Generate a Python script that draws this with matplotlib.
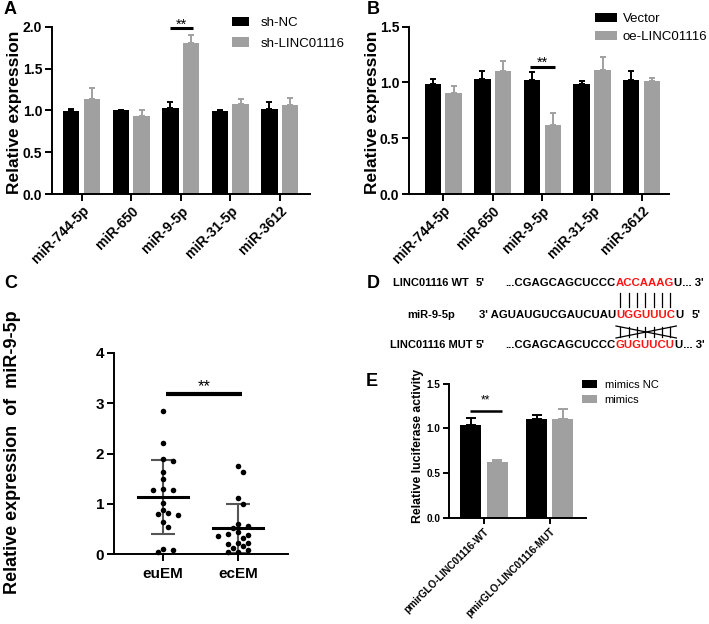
import matplotlib
matplotlib.use("Agg")
import matplotlib.pyplot as plt
from matplotlib.patches import Patch
import numpy as np

plt.rcParams["font.family"] = ["Liberation Sans", "DejaVu Sans"]
plt.rcParams["font.weight"] = "bold"
plt.rcParams["axes.linewidth"] = 1.4

BLACK = "#000000"
GRAY = "#a0a0a0"
RED = "#ff1414"

# ---- panel A / B: miRNA screening ----
mirnas = ["miR-744-5p", "miR-650", "miR-9-5p", "miR-31-5p", "miR-3612"]
sh_nc = [0.99, 1.00, 1.03, 0.99, 1.02]
sh_nc_err = [0.03, 0.01, 0.07, 0.02, 0.08]
sh_linc = [1.13, 0.93, 1.80, 1.08, 1.06]
sh_linc_err = [0.14, 0.08, 0.10, 0.06, 0.09]

vector = [0.99, 1.03, 1.02, 0.99, 1.02]
vector_err = [0.04, 0.07, 0.07, 0.02, 0.08]
oe_linc = [0.91, 1.10, 0.62, 1.11, 1.01]
oe_linc_err = [0.06, 0.09, 0.11, 0.12, 0.03]

# ---- panel C: tissue expression ----
tissues = ["euEM", "ecEM"]
eu_em = [2.85, 2.21, 1.90, 1.86, 1.64, 1.50, 1.29, 1.27, 1.27, 1.02,
         0.87, 0.81, 0.80, 0.77, 0.64, 0.54, 0.09, 0.07, 0.03]
ec_em = [1.75, 1.64, 1.11, 1.00, 0.60, 0.56, 0.52, 0.43, 0.39, 0.38,
         0.36, 0.32, 0.21, 0.21, 0.20, 0.15, 0.11, 0.07, 0.04, 0.03]
tissue_mean = [1.13, 0.51]
tissue_sd = [0.74, 0.49]

# ---- panel D: binding sites ----
wt_seq = ["...CGAGCAGCUCCC", "ACCAAAG", "U... 3'"]
mir_seq = ["3' AGUAUGUCGAUCUAU", "UGGUUUC", "U"]
mut_seq = ["...CGAGCAGCUCCC", "GUGUUCU", "U... 3'"]

# ---- panel E: luciferase ----
luc_groups = ["pmirGLO-LINC01116-WT", "pmirGLO-LINC01116-MUT"]
mimics_nc = [1.04, 1.10]
mimics_nc_err = [0.07, 0.05]
mimics = [0.62, 1.10]
mimics_err = [0.03, 0.12]

W, H = 709, 624
fig = plt.figure(figsize=(W / 100, H / 100), dpi=100)


def add_axes_px(left, top, right, bottom):
    return fig.add_axes([left / W, 1 - bottom / H, (right - left) / W, (bottom - top) / H])


def style_axes(ax, labelsize, ticklen=4):
    for side in ("top", "right"):
        ax.spines[side].set_visible(False)
    ax.tick_params(axis="both", direction="out", width=1.4, length=ticklen,
                   labelsize=labelsize, pad=2)
    ax.patch.set_alpha(0)


def grouped_bars(ax, a, a_err, b, b_err, offset, width, capsize):
    n = len(a)
    x = np.arange(n)
    for xs, vals, errs, color in ((x - offset, a, a_err, BLACK), (x + offset, b, b_err, GRAY)):
        ax.bar(xs, vals, width, color=color, zorder=2)
        ax.errorbar(xs, vals, yerr=[np.zeros(n), errs], fmt="none", ecolor=color,
                    elinewidth=1.4, capsize=capsize, capthick=1.4, zorder=1)
    return x


def sig(ax, x1, x2, y, lw, fs, lift):
    ax.plot([x1, x2], [y, y], color=BLACK, lw=lw, clip_on=False, solid_capstyle="butt")
    ax.annotate("**", xy=((x1 + x2) / 2, y), xytext=(0, lift), textcoords="offset points",
                ha="center", va="baseline", fontsize=fs, fontweight="normal",
                annotation_clip=False)


def legend_px(labels, x, y, fs, hl, tp, ls):
    handles = [Patch(facecolor=BLACK), Patch(facecolor=GRAY)]
    fig.legend(handles, labels, loc="upper left", bbox_to_anchor=(x / W, 1 - y / H),
               frameon=False, borderpad=0, borderaxespad=0, handlelength=hl,
               handleheight=0.7, handletextpad=tp, labelspacing=ls,
               prop={"size": fs, "weight": "normal"})


def swarm(values, unit_px, step_px, min_px):
    vals = np.asarray(values)
    offs = np.zeros(len(vals))
    placed = []
    for i in np.argsort(vals)[::-1]:
        y = vals[i] * unit_px
        k = 0
        while True:
            cands = [0.0] if k == 0 else [-k * step_px, k * step_px]
            ok = [c for c in cands
                  if all(np.hypot(c - px, y - py) >= min_px for px, py in placed)]
            if ok:
                break
            k += 1
        c = ok[len(placed) % len(ok)]
        offs[i] = c
        placed.append((c, y))
    return offs


# ================= A =================
axA = add_axes_px(52, 26.7, 309.5, 194)
x = grouped_bars(axA, sh_nc, sh_nc_err, sh_linc, sh_linc_err, 0.21, 0.33, 2.4)
axA.set_xlim(-0.6, 4.6)
axA.set_ylim(0, 2.0)
axA.set_yticks([0, 0.5, 1.0, 1.5, 2.0])
axA.yaxis.set_major_formatter(matplotlib.ticker.FormatStrFormatter("%.1f"))
axA.set_xticks(x)
axA.set_xticklabels(mirnas, rotation=45, ha="right", va="top", rotation_mode="anchor")
style_axes(axA, 10, 5)
sig(axA, 1.79, 2.25, 1.99, 2.2, 10.5, -1)

# ================= B =================
axB = add_axes_px(409, 26.7, 669, 194)
x = grouped_bars(axB, vector, vector_err, oe_linc, oe_linc_err, 0.21, 0.33, 2.4)
axB.set_xlim(-0.69, 4.55)
axB.set_ylim(0, 1.5)
axB.set_yticks([0, 0.5, 1.0, 1.5])
axB.yaxis.set_major_formatter(matplotlib.ticker.FormatStrFormatter("%.1f"))
axB.set_xticks(x)
axB.set_xticklabels(mirnas, rotation=45, ha="right", va="top", rotation_mode="anchor")
style_axes(axB, 10, 5)
sig(axB, 1.74, 2.25, 1.14, 2.2, 10.5, 0)

# ================= C =================
axC = add_axes_px(114, 353, 288, 554)
axC.set_xlim(-0.653, 1.667)
axC.set_ylim(0, 4)
unit_px = 201 / 4
cat_px = 174 / 2.32
for i, vals in enumerate((eu_em, ec_em)):
    offs = swarm(vals, unit_px, 5, 5.8) / cat_px
    axC.scatter(i + offs, vals, s=16, color=BLACK, zorder=3, linewidths=0, clip_on=False)
    axC.errorbar(i, tissue_mean[i], yerr=tissue_sd[i], fmt="none", ecolor="#555555",
                 elinewidth=1.5, capsize=8.6, capthick=1.5, zorder=2)
    axC.plot([i - 0.335, i + 0.335], [tissue_mean[i]] * 2, color=BLACK, lw=2.2, zorder=2)
axC.set_yticks([0, 1, 2, 3, 4])
axC.set_xticks([0, 1])
axC.set_xticklabels(tissues)
style_axes(axC, 11, 5)
axC.tick_params(axis="x", pad=4)
sig(axC, 0.04, 1.05, 3.19, 3.0, 12, 1.5)

# ================= E =================
axE = add_axes_px(449, 383.5, 586, 518)
x = grouped_bars(axE, mimics_nc, mimics_nc_err, mimics, mimics_err, 0.2, 0.32, 3.6)
axE.set_xlim(-0.53, 1.55)
axE.set_ylim(0, 1.5)
axE.set_yticks([0, 0.5, 1.0, 1.5])
axE.yaxis.set_major_formatter(matplotlib.ticker.FormatStrFormatter("%.1f"))
axE.set_xticks(x)
axE.set_xticklabels(luc_groups, rotation=45, ha="right", va="top", rotation_mode="anchor")
style_axes(axE, 7.2, 4)
sig(axE, -0.21, 0.27, 1.19, 1.8, 8.6, 6)

# legends
legend_px(["sh-NC", "sh-LINC01116"], 232, 17, 9.5, 1.3, 0.85, 0.62)
legend_px(["Vector", "oe-LINC01116"], 595, 13, 9.5, 1.65, 0.45, 0.45)
legend_px(["mimics NC", "mimics"], 582, 380, 8, 1.35, 0.7, 0.45)

# ================= overlay text (letters, labels, D) =================
ov = fig.add_axes([0, 0, 1, 1])
ov.set_xlim(0, W)
ov.set_ylim(H, 0)
ov.axis("off")
ov.patch.set_alpha(0)

for letter, lx, ly in (("A", 4, 9), ("B", 367, 9), ("C", 4, 284), ("D", 367, 283), ("E", 366, 381)):
    ov.text(lx, ly, letter, fontsize=13, fontweight="bold", va="center", ha="left")

ov.text(15, 112, "Relative expression", rotation=90, fontsize=12.5, ha="center", va="center")
ov.text(372, 112, "Relative expression", rotation=90, fontsize=12.5, ha="center", va="center")
ov.text(13, 452, "Relative expression  of  miR-9-5p", rotation=90, fontsize=13,
        ha="center", va="center")
ov.text(418, 446, "Relative luciferase activity", rotation=90, fontsize=8.8,
        ha="center", va="center")

# D: sequence alignment
seq_fs = 8.2
seed_x = 616
rows = [("LINC01116 WT", "5'", wt_seq, 283), ("miR-9-5p", "3'", mir_seq, 315),
        ("LINC01116 MUT", "5'", mut_seq, 345)]
seeds = []
for name, end, seq, y in rows:
    ov.text(431, y, name, fontsize=8, ha="center", va="center")
    if name != "miR-9-5p":
        ov.text(476, y, end, fontsize=seq_fs, ha="left", va="center")
    ov.text(seed_x, y, seq[0], fontsize=seq_fs, ha="right", va="center")
    t = ov.text(seed_x, y, seq[1], fontsize=seq_fs, ha="left", va="center", color=RED)
    ov.annotate(seq[2], xy=(1, 0.5), xycoords=t, ha="left", va="center", fontsize=seq_fs)
    seeds.append(t)
ov.text(692, 315, "5'", fontsize=seq_fs, ha="left", va="center")

fig.canvas.draw()
bb = seeds[0].get_window_extent()
x0, x1 = bb.x0, bb.x1
centers = [x0 + (k + 0.5) * (x1 - x0) / 7 for k in range(7)]
for cx in centers:
    ov.plot([cx, cx], [293, 307], color=BLACK, lw=0.9)
    ov.plot([cx, cx], [327, 337], color=BLACK, lw=0.9)
ov.plot([x0, x1 + 2], [326, 338], color=BLACK, lw=0.9)
ov.plot([x0, x1 + 2], [338, 326], color=BLACK, lw=0.9)

fig.savefig("out.png", dpi=100)
